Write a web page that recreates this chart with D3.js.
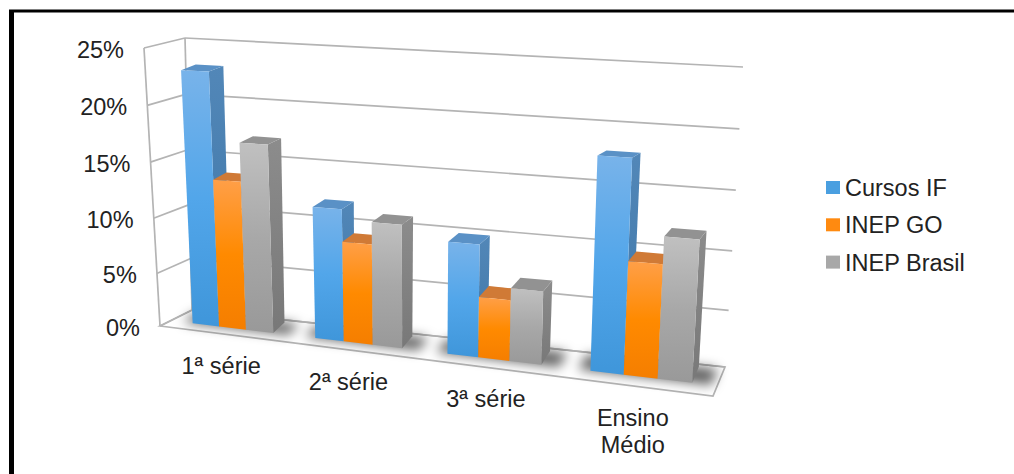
<!DOCTYPE html>
<html>
<head>
<meta charset="utf-8">
<script src="https://cdn.jsdelivr.net/npm/d3@7"></script>
<style>
html,body{margin:0;padding:0;background:#fff;overflow:hidden}
svg{display:block}
text{font-family:"Liberation Sans",Arial,sans-serif;fill:#222}
</style>
</head>
<body>
<svg id="chart" width="1014" height="474"></svg>
<script>
// Chart data
const categories = [["1ª série"], ["2ª série"], ["3ª série"], ["Ensino", "Médio"]];
const seriesNames = ["Cursos IF", "INEP GO", "INEP Brasil"];
const cursosIF = [22.85, 11.7, 9.7, 17.6];
const inepGO = [13.4, 8.9, 5.3, 9.4];
const inepBrasil = [16.8, 10.8, 6.3, 11.6];
const yTicks = [0, 5, 10, 15, 20, 25];
const seriesValues = [cursosIF, inepGO, inepBrasil];

const svg = d3.select("#chart");
const defs = svg.append("defs");

// Position of the box corners as a function of value; upper levels spread slightly wider
const corner = (x0, x1, y0, y1) => ({
  x: d3.scaleLinear().domain([0, 25]).range([x0, x1]),
  y: d3.scalePow().exponent(1.035).domain([0, 25]).range([y0, y1])
});
const frontLeft = corner(160, 144, 326, 48);
const backLeft = corner(192, 185, 310, 38);
const frontRight = corner(713, 730, 396, 66);
const backRight = corner(725, 743, 367, 67);

// Foreshortening along the category axis
const foreshorten = 1.17;
const along = u => u / (u + foreshorten * (1 - u));
const bandScale = d3.scaleBand().domain(d3.range(categories.length)).range([0, 1]);
const lerp = d3.interpolateNumber;

// u: 0..1 along categories, v: value, dy/dx: 0 front .. 1 back, vertical and horizontal reach
function project(u, v, dy, dx = dy) {
  const t = along(u);
  const fx = lerp(frontLeft.x(v), frontRight.x(v))(t);
  const fy = lerp(frontLeft.y(v), frontRight.y(v))(t);
  const bx = lerp(backLeft.x(v), backRight.x(v))(t);
  const by = lerp(backLeft.y(v), backRight.y(v))(t);
  return [lerp(fx, bx)(dx), lerp(fy, by)(dy)];
}
const poly = pts => pts.map(p => p.join(",")).join(" ");

// Series colours: front gradient stops, side gradient stops, top face
const palette = [
  {front: ["#78b3ea", "#52a6ea", "#3f96da"], side: ["#5287b8", "#3d75a6"], top: "#5a91c6", swatch: "#4a9fe0"},
  {front: ["#ff9f48", "#ff8a00", "#f57e00"], side: ["#c87030", "#b86a20"], top: "#d07a36", swatch: "#ff8a10"},
  {front: ["#c0c0c0", "#a8a8a8", "#999999"], side: ["#8c8c8c", "#787878"], top: "#929292", swatch: "#a8a8a8"}
];
palette.forEach((c, i) => {
  const f = defs.append("linearGradient").attr("id", "front" + i)
    .attr("x1", 0).attr("y1", 0).attr("x2", 0).attr("y2", 1);
  f.selectAll("stop").data(c.front).join("stop")
    .attr("offset", (_, k) => k / 2).attr("stop-color", d => d);
  const s = defs.append("linearGradient").attr("id", "side" + i)
    .attr("x1", 0).attr("y1", 0).attr("x2", 0).attr("y2", 1);
  s.selectAll("stop").data(c.side).join("stop")
    .attr("offset", (_, k) => k).attr("stop-color", d => d);
});
defs.append("filter").attr("id", "soft")
  .attr("x", "-30%").attr("y", "-80%").attr("width", "160%").attr("height", "260%")
  .append("feGaussianBlur").attr("stdDeviation", 6);

// Outer frame: top and left edges only
svg.append("line").attr("x1", 9).attr("x2", 1014).attr("y1", 11).attr("y2", 11)
  .attr("stroke", "#000").attr("stroke-width", 3);
svg.append("line").attr("x1", 11.5).attr("x2", 11.5).attr("y1", 10).attr("y2", 474)
  .attr("stroke", "#000").attr("stroke-width", 5);

// Walls, floor and gridlines
const gridColor = "#b4b4b4";
const frame = svg.append("g").attr("fill", "none").attr("stroke", gridColor).attr("stroke-width", 1.7);
frame.append("polygon").attr("fill", "#fff")
  .attr("points", poly([project(0, 0, 0), project(1, 0, 0), project(1, 0, 1), project(0, 0, 1)]));
frame.selectAll(".back").data(yTicks).join("line").attr("class", "back")
  .attr("x1", v => project(0, v, 1)[0]).attr("y1", v => project(0, v, 1)[1])
  .attr("x2", v => project(1, v, 1)[0]).attr("y2", v => project(1, v, 1)[1]);
frame.selectAll(".wall").data(yTicks).join("line").attr("class", "wall")
  .attr("x1", v => project(0, v, 0)[0]).attr("y1", v => project(0, v, 0)[1])
  .attr("x2", v => project(0, v, 1)[0]).attr("y2", v => project(0, v, 1)[1]);
[0, 1].forEach(d => frame.append("line")
  .attr("x1", project(0, 0, d)[0]).attr("y1", project(0, 0, d)[1])
  .attr("x2", project(0, 25, d)[0]).attr("y2", project(0, 25, d)[1]));

// Bars sit between these depths and inside this share of each band
const nearY = 0.36, farY = 0.92, nearX = 0.2;
const groupStart = c => 0.222 - 0.009 * c, groupShare = 0.66;
const barU = (c, s) => {
  const b = bandScale.bandwidth();
  return bandScale(c) + b * (groupStart(c) + groupShare * s / seriesNames.length);
};
// Horizontal reach of a bar's depth grows towards the right of the floor
const farX = u => nearX + 0.37 + 0.15 * along(u);

// Soft shadow below each group of bars
const shadows = svg.append("g").attr("filter", "url(#soft)");
categories.forEach((_, c) => {
  const u0 = barU(c, 0), u1 = barU(c, 3);
  shadows.append("polygon").attr("fill", "#000").attr("fill-opacity", 0.62)
    .attr("points", poly([project(u0 - 0.02, 0, nearY, nearX), project(u1 + 0.03, 0, nearY, nearX),
      project(u1 + 0.03, 0, farY, farX(u1)), project(u0 - 0.02, 0, farY, farX(u0))]));
});

// Bars: side, top, then front for each series, left to right
const bars = svg.append("g");
categories.forEach((_, c) => {
  seriesValues.forEach((vals, s) => {
    const v = vals[c], u0 = barU(c, s), u1 = barU(c, s + 1);
    const g = bars.append("g");
    g.append("polygon").attr("fill", `url(#side${s})`)
      .attr("points", poly([project(u1, 0, nearY, nearX), project(u1, 0, farY, farX(u1)), project(u1, v, farY, farX(u1)), project(u1, v, nearY, nearX)]));
    g.append("polygon").attr("fill", palette[s].top)
      .attr("points", poly([project(u0, v, nearY, nearX), project(u1, v, nearY, nearX), project(u1, v, farY, farX(u1)), project(u0, v, farY, farX(u0))]));
    g.append("polygon").attr("fill", `url(#front${s})`)
      .attr("points", poly([project(u0, 0, nearY, nearX), project(u1, 0, nearY, nearX), project(u1, v, nearY, nearX), project(u0, v, nearY, nearX)]));
  });
});

// Value axis labels
const fontSize = 23.5;
svg.append("g").selectAll("text").data(yTicks).join("text")
  .attr("text-anchor", "end").attr("font-size", fontSize)
  .attr("x", v => project(0, v, 0)[0] - 20)
  .attr("y", v => project(0, v, 0)[1] + 10)
  .text(v => v + "%");

// Category labels
categories.forEach((lines, c) => {
  const p = project(bandScale(c) + bandScale.bandwidth() / 2, 0, 0);
  const t = svg.append("text").attr("text-anchor", "middle").attr("font-size", fontSize);
  lines.forEach((line, i) => t.append("tspan")
    .attr("x", p[0] + 1 - (lines.length > 1 ? 2 : 0)).attr("y", p[1] + 40 + i * 27).text(line));
});

// Legend
const legend = svg.append("g").selectAll("g").data(seriesNames).join("g")
  .attr("transform", (_, i) => `translate(826,${181 + i * 37.3})`);
legend.append("rect").attr("width", 14).attr("height", 13).attr("fill", (_, i) => palette[i].swatch);
legend.append("text").attr("x", 19).attr("y", 15).attr("font-size", fontSize).text(d => d);
</script>
</body>
</html>
